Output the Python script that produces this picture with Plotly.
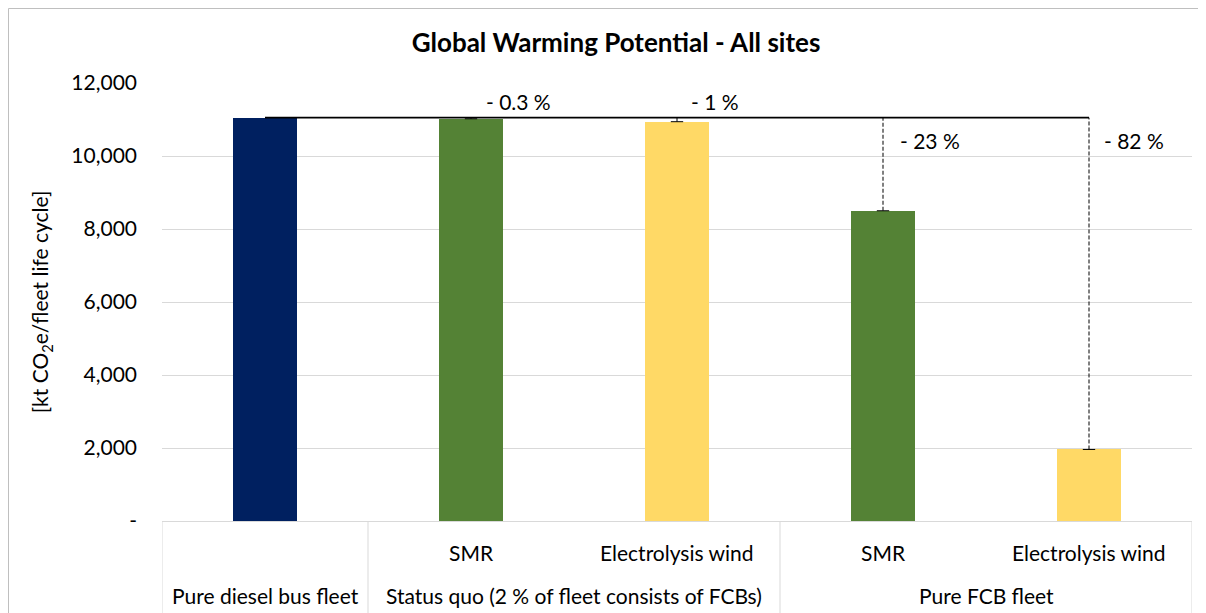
import plotly.graph_objects as go

# ---- data ----
groups = ["Pure diesel bus fleet", "Status quo (2 % of fleet consists of FCBs)", "Pure FCB fleet"]
group_sizes = [1, 2, 2]
sub_labels = ["", "SMR", "Electrolysis wind", "SMR", "Electrolysis wind"]
values = [11050, 11020, 10940, 8500, 1960]
bar_colors = ["#002060", "#548235", "#FFD966", "#548235", "#FFD966"]
change_labels = ["", "- 0.3 %", "- 1 %", "- 23 %", "- 82 %"]
y_ticks = [0, 2000, 4000, 6000, 8000, 10000, 12000]
y_ticktext = ["-", "2,000", "4,000", "6,000", "8,000", "10,000", "12,000"]

FONT = "Lato"
FS = 21
n = len(values)
xs = list(range(n))
ref = values[0]

# plot area in figure pixels (page has 8px body offset)
L, T, PW, PH = 154, 75, 1030, 438
W, H = 1206, 613

fig = go.Figure()
fig.add_trace(go.Bar(x=xs, y=values, marker=dict(color=bar_colors, line=dict(width=0)),
                     width=0.315, showlegend=False, hoverinfo="skip"))

# reference line from first bar to last bar
fig.add_trace(go.Scatter(x=[xs[0], xs[-1]], y=[ref, ref], mode="lines",
                         line=dict(color="black", width=1.8), showlegend=False, hoverinfo="skip"))

shapes = []
annotations = []
for i in range(1, n):
    shapes.append(dict(type="line", xref="x", yref="y", x0=xs[i], x1=xs[i], y0=values[i], y1=ref,
                       line=dict(color="black", width=1, dash="4px,2px")))
    shapes.append(dict(type="line", xref="x", yref="y", x0=xs[i] - 0.03, x1=xs[i] + 0.03,
                       y0=values[i], y1=values[i], line=dict(color="black", width=1)))

label_style = {1: dict(xshift=47, yshift=16, xanchor="center"),
               2: dict(xshift=38, yshift=16, xanchor="center"),
               3: dict(xshift=15, yshift=-23, xanchor="left"),
               4: dict(xshift=13, yshift=-23, xanchor="left")}
for i in range(1, n):
    st = label_style[i]
    annotations.append(dict(x=xs[i], y=ref, xref="x", yref="y", text=change_labels[i],
                            showarrow=False, xanchor=st["xanchor"], yanchor="middle",
                            xshift=st["xshift"], yshift=st["yshift"],
                            font=dict(family=FONT, size=FS, color="black")))

grid_col = "#d9d9d9"
tbl_bottom = -0.25
for i in range(n):
    if sub_labels[i]:
        annotations.append(dict(x=xs[i], y=-0.071, xref="x", yref="paper", text=sub_labels[i],
                                showarrow=False, xanchor="center", yanchor="middle",
                                font=dict(family=FONT, size=FS, color="black")))
start = 0
bounds = [-0.5]
for g, sz in zip(groups, group_sizes):
    center = start + (sz - 1) / 2
    annotations.append(dict(x=center, y=-0.171, xref="x", yref="paper", text=g,
                            showarrow=False, xanchor="center", yanchor="middle",
                            font=dict(family=FONT, size=FS, color="black")))
    start += sz
    bounds.append(start - 0.5)
for b in bounds:
    shapes.append(dict(type="line", xref="x", yref="paper", x0=b, x1=b, y0=0, y1=tbl_bottom,
                       line=dict(color=grid_col, width=1)))

# outer chart border
shapes.append(dict(type="rect", xref="paper", yref="paper",
                   x0=(0.5 - L) / PW, x1=(1195 - L) / PW,
                   y0=-0.3, y1=(T + PH - 0.5) / PH,
                   line=dict(color="#bfbfbf", width=1), fillcolor="rgba(0,0,0,0)", layer="below"))

fig.update_layout(
    width=W, height=H,
    margin=dict(l=L, r=W - L - PW, t=T, b=H - T - PH),
    paper_bgcolor="white", plot_bgcolor="white",
    title=dict(text="<b>Global Warming Potential - All sites</b>", x=(608 - L) / PW, xref="paper",
               xanchor="center", y=1 - 35 / H, yanchor="middle",
               font=dict(family=FONT, size=26, color="black")),
    xaxis=dict(range=[-0.5, n - 0.5], showticklabels=False, ticks="", showgrid=False,
               zeroline=False, showline=True, linecolor=grid_col, linewidth=1, fixedrange=True),
    yaxis=dict(range=[0, 12000], tickvals=y_ticks, ticktext=y_ticktext, showgrid=True,
               gridcolor=grid_col, gridwidth=1, zeroline=False, showline=False,
               ticks="", ticklabelstandoff=24,
               tickfont=dict(family=FONT, size=FS, color="black"),
               title=dict(text="[kt CO<sub>2</sub>e/fleet life cycle]", standoff=16,
                          font=dict(family=FONT, size=FS, color="black"))),
    shapes=shapes, annotations=annotations, bargap=0,
)

fig.write_html("out.html")
